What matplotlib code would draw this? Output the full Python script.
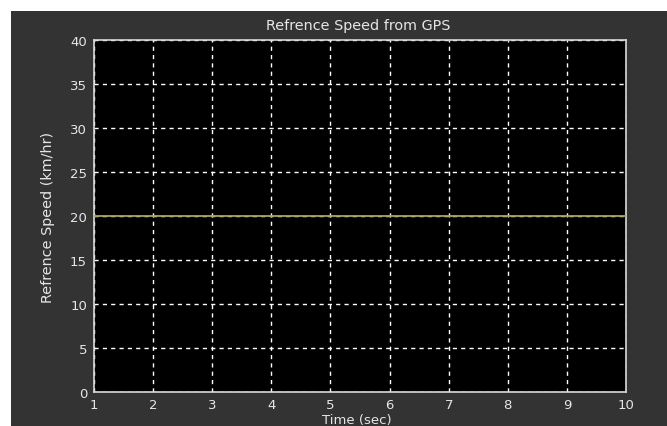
import matplotlib.pyplot as plt
from matplotlib.patches import Rectangle

# data
time_sec = [1, 10]
ref_speed = [20, 20]
x_ticks = [1, 2, 3, 4, 5, 6, 7, 8, 9, 10]
y_ticks = [0, 5, 10, 15, 20, 25, 30, 35, 40]

W, H = 667, 427
fig = plt.figure(figsize=(W / 100, H / 100), dpi=100, facecolor='white')

# dark grey scope panel with white strip at top and left
fig.patches.append(Rectangle((11 / W, 0), 1 - 11 / W, (H - 12) / H,
                             transform=fig.transFigure, facecolor='#333333',
                             edgecolor='none', zorder=-10))

ax = fig.add_axes([94 / W, (H - 393) / H, (626 - 94) / W, (393 - 41) / H])
ax.set_zorder(1)
ax.set_facecolor('black')
ax.plot(time_sec, ref_speed, color='#a3a366', lw=1.3, zorder=3)

ax.set_xlim(1, 10)
ax.set_ylim(0, 40)
ax.set_xticks(x_ticks)
ax.set_yticks(y_ticks)
ax.tick_params(colors='#e6e6e6', labelsize=9.5, length=0)
ax.tick_params(axis='x', pad=4)
ax.tick_params(axis='y', pad=5)
ax.grid(True, color='white', linestyle=(0, (3, 3)), linewidth=1)
for s in ax.spines.values():
    s.set_color('#d9d9d9')
    s.set_linewidth(1.2)

fig.text(358 / W, 1 - 26 / H, 'Refrence Speed from GPS', color='#e6e6e6',
         fontsize=10.4, ha='center', va='center')
# sits right at the bottom edge, as in the original
fig.text(357 / W, 0, 'Time (sec)', color='#e6e6e6',
         fontsize=9.5, ha='center', va='bottom')
fig.text(48 / W, 1 - 217 / H, 'Refrence Speed (km/hr)', color='#e6e6e6',
         fontsize=10.4, ha='center', va='center', rotation=90)

fig.savefig('out.png', dpi=100)
